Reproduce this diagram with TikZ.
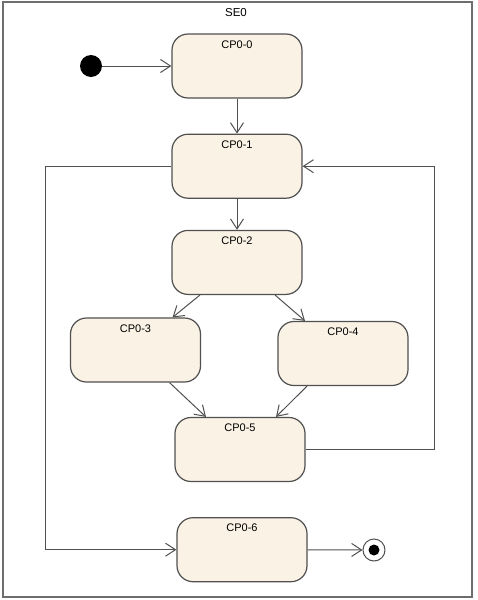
\documentclass[tikz,border=0pt]{standalone}
\usepackage{fontspec}
\setmainfont{Liberation Sans}
\usetikzlibrary{arrows.meta,positioning,calc}
\definecolor{stateFill}{RGB}{250, 242, 229}
\definecolor{stateLine}{RGB}{80, 80, 80}
\definecolor{frameLine}{RGB}{110, 110, 110}

\begin{document}
\begin{tikzpicture}[
  x=1pt, y=-1pt,
  state/.style={
    draw=stateLine,
    line width=1.2pt,
    fill=stateFill,
    rounded corners=16pt,
    minimum width=130pt,
    inner sep=6pt,
    text height=8pt,
    text depth=44pt,
    font=\fontsize{11}{12}\selectfont
  },
  initial/.style={circle, fill=black, minimum size=22pt, inner sep=0pt},
  final/.style={
    circle, draw=stateLine, line width=1pt, fill=white, minimum size=22pt, inner sep=0pt,
    path picture={\fill[black] (path picture bounding box.center) circle (5.5pt);}
  },
  arrow/.style={-{Straight Barb[length=10pt,width=13pt]},line width=1pt,stateLine}
]
  \useasboundingbox (0,0) rectangle (477,600);
  \draw[frameLine, line width=1.2pt] (3,2) rectangle (472,597);
  \node[font=\fontsize{11.5}{12}\selectfont] (title) at (236,13) {SE0};

  \node[initial] (start) at (91,66) {};
  \node[state] (c0) at (237,66) {CP0-0};
  \node[state,below=35pt of c0] (c1) {CP0-1};
  \node[state,below=31pt of c1] (c2) {CP0-2};
  \node[state] (c3) at (135.5,350) {CP0-3};
  \node[state] (c4) at (343,353.5) {CP0-4};
  \node[state] (c5) at (240,449.5) {CP0-5};
  \node[state,below=35pt of c5,xshift=2pt] (c6) {CP0-6};
  \node[final] (stop) at (374,550) {};

  \draw[arrow] (start) -- (c0.west);
  \draw[arrow] (c0) -- (c1);
  \draw[arrow] (c1) -- (c2);
  \draw[arrow] ([xshift=-37pt]c2.south) -- ([xshift=37pt]c3.north);
  \draw[arrow] ([xshift=38pt]c2.south) -- ([xshift=-38pt]c4.north);
  \draw[arrow] ([xshift=34pt]c3.south) -- ([xshift=-34pt]c5.north);
  \draw[arrow] ([xshift=-36pt]c4.south) -- ([xshift=36pt]c5.north);
  % loops back to CP0-1 and on to CP0-6
  \draw[arrow] (c1.west) -- ++(-126,0) |- (c6.west);
  \draw[arrow] (c5.east) -- ++(129,0) |- (c1.east);
  \draw[arrow] (c6) -- (stop);
\end{tikzpicture}
\end{document}
